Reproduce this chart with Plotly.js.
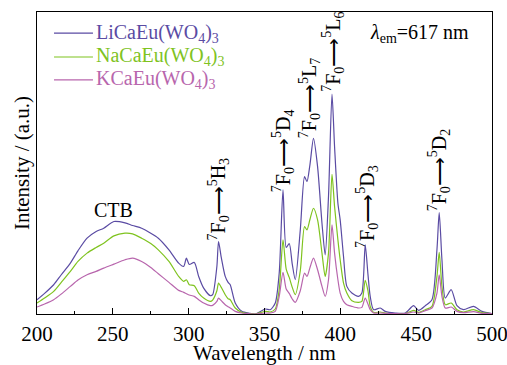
<!DOCTYPE html>
<html>
<head>
<meta charset="utf-8">
<script src="https://cdn.plot.ly/plotly-3.0.1.min.js"></script>
<style>html,body{margin:0;padding:0;background:#fff;}#chart{width:507px;height:365px;}</style>
</head>
<body>
<div id="chart"></div>
<script>
// Wavelength (nm)
const wavelength = [200,205,211,216,222,227,233,239,244,250.7,258,263,269,275,280,287,293.4,296.7,298.5,300.4,303.7,306.6,309.9,314.3,315.8,318.6,319.7,321.5,324.1,326,327.4,330.7,335,340,344,350.5,353.8,357.1,359.7,362.2,364.3,366.3,368.3,370.3,373.6,376.4,378,380,382.3,385,387.9,390,392.2,394.5,396.2,398.4,399.9,402.1,404.3,407.6,412,414.2,416.4,418.2,419.7,421.9,426.3,429.6,436.2,442.8,448.3,451.6,456,460.4,463.7,465.2,467,469.2,473.1,476.9,481.2,487.8,493.4,500];
// Intensity (a.u.)
const liIntensity = [43,62,88,118,153,190,228,248,258,278,274,266,258,243,228,193,153,143,168,149,155,113,78,55,58,143,218,170,113,95,88,33,8,2,0,15,13,33,123,373,200,212,150,103,253,413,398,450,528,443,273,178,353,661,503,333,283,173,83,63,53,63,208,120,53,13,18,8,3,3,25,11,25,43,193,305,163,48,73,25,13,23,8,1];
const naIntensity = [33,48,68,95,128,158,183,200,213,235,243,241,228,212,193,158,113,98,103,88,85,63,48,38,42,70,93,80,58,46,43,18,5,1,0,8,6,15,73,223,135,110,80,58,130,263,253,285,318,283,183,113,183,420,323,223,163,93,63,40,35,38,101,70,23,5,6,3,1,1,11,5,13,23,113,185,83,28,33,13,6,13,4,1];
const kIntensity = [21,30,43,60,83,102,118,128,138,150,163,168,158,140,121,95,71,65,61,57,53,43,33,25,26,38,48,40,28,22,18,8,3,1,0,3,3,8,53,125,75,62,45,35,70,123,113,140,168,133,83,53,103,268,183,103,63,38,28,23,18,20,48,30,13,3,3,2,1,1,6,3,10,18,63,118,53,18,21,8,4,7,2,1];

const seriesNames = ['LiCaEu(WO<sub>4</sub>)<sub>3</sub>','NaCaEu(WO<sub>4</sub>)<sub>3</sub>','KCaEu(WO<sub>4</sub>)<sub>3</sub>'];
const seriesColors = ['#5a4ba3','#7fc31f','#b866ad'];
const seriesData = [liIntensity, naIntensity, kIntensity];
const xTickVals = [200,250,300,350,400,450,500];

const labelTexts = ['CTB',
  '<sup>7</sup>F<sub>0</sub>⟶<sup>5</sup>H<sub>3</sub>',
  '<sup>7</sup>F<sub>0</sub>⟶<sup>5</sup>D<sub>4</sub>',
  '<sup>7</sup>F<sub>0</sub>⟶<sup>5</sup>L<sub>7</sub>',
  '<sup>7</sup>F<sub>0</sub>⟶<sup>5</sup>L<sub>6</sub>',
  '<sup>7</sup>F<sub>0</sub>⟶<sup>5</sup>D<sub>3</sub>',
  '<sup>7</sup>F<sub>0</sub>⟶<sup>5</sup>D<sub>2</sub>'];
const labelX = [250.3,319.7,362.3,380,395.5,417.6,465.3];
const labelY = [313,346,490,649,787,322,433];

const FONT = '"Liberation Serif", "Times New Roman", Times, serif';

const traces = seriesData.map((d,i)=>({
  x: wavelength, y: d, type:'scatter', mode:'lines', name: seriesNames[i],
  line:{color:seriesColors[i], width:1.2, shape:'spline', smoothing:0.7}
}));

const annotations = labelTexts.map((t,i)=>({
  x: labelX[i], y: labelY[i], xref:'x', yref:'y', text:t, showarrow:false,
  textangle: i===0 ? 0 : -90, xanchor:'center', yanchor:'middle',
  font:{family:FONT, size:20, color:'#000'}
}));
annotations.push({x:452.3, y:844, xref:'x', yref:'y', showarrow:false,
  text:'<i>λ</i><sub>em</sub>=617 nm', xanchor:'center', yanchor:'middle',
  font:{family:FONT, size:20, color:'#000'}});

// manual legend (paper coordinates)
const legendRowY = [0.930, 0.851, 0.775];
const shapes = [];
seriesNames.forEach((n,i)=>{
  shapes.push({type:'line', xref:'paper', yref:'paper', x0:0.0374, x1:0.123,
    y0:legendRowY[i], y1:legendRowY[i], line:{color:seriesColors[i], width:1.2}});
  annotations.push({xref:'paper', yref:'paper', x:0.126, y:legendRowY[i], text:n,
    showarrow:false, xanchor:'left', yanchor:'middle',
    font:{family:FONT, size:20, color:seriesColors[i]}});
});

const layout = {
  width:507, height:365,
  margin:{l:37, r:15, t:12, b:51, pad:0},
  paper_bgcolor:'#fff', plot_bgcolor:'#fff',
  font:{family:FONT, size:20, color:'#000'},
  showlegend:false,
  xaxis:{range:[200,500], tickmode:'array', tickvals:xTickVals,
    ticks:'inside', ticklen:6, tickwidth:1, tickcolor:'#000', ticklabeloverflow:'allow',
    minor:{dtick:25, tick0:200, ticks:'inside', ticklen:3, tickwidth:1, tickcolor:'#000'},
    showline:true, mirror:true, linecolor:'#000', linewidth:1.3,
    showgrid:false, zeroline:false, tickfont:{family:FONT, size:21},
    title:{text:'Wavelength / nm', font:{family:FONT, size:21}, standoff:2}},
  yaxis:{range:[0,908], showticklabels:false, ticks:'', showline:true, mirror:true,
    linecolor:'#000', linewidth:1.3, showgrid:false, zeroline:false,
    title:{text:'Intensity / (a.u.)', font:{family:FONT, size:21}, standoff:0}},
  shapes: shapes,
  annotations: annotations
};

Plotly.newPlot('chart', traces, layout, {displayModeBar:false, staticPlot:true});
</script>
</body>
</html>
